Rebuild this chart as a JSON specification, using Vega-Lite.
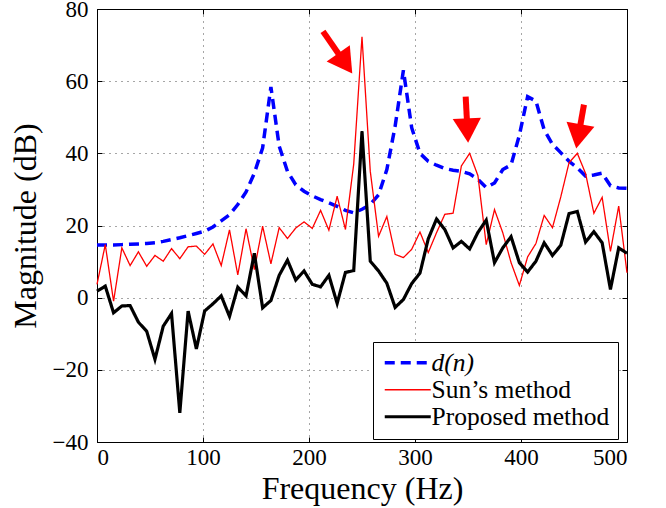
{
  "$schema": "https://vega.github.io/schema/vega-lite/v6.json",
  "width": 530,
  "height": 433,
  "autosize": {"type": "none"},
  "padding": {"left": 97, "top": 9, "right": 39, "bottom": 66},
  "background": "white",
  "config": {
    "view": {"stroke": "black", "strokeWidth": 1},
    "font": "Liberation Serif",
    "style": {
      "guide-label": {"font": "Liberation Serif", "fill": "black"},
      "guide-title": {"font": "Liberation Serif", "fill": "black"}
    },
    "axis": {
      "labelFont": "Liberation Serif", "labelFontSize": 23, "labelColor": "black",
      "titleFont": "Liberation Serif", "titleFontSize": 32, "titleFontWeight": "normal", "titleColor": "black",
      "tickColor": "black", "tickSize": -5, "tickWidth": 1, "domain": false,
      "gridColor": "black", "gridDash": [1, 5], "gridOpacity": 0.7, "gridWidth": 1
    },
    "legend": {"labelFont": "Liberation Serif", "labelFontSize": 25.5, "labelColor": "black", "labelLimit": 400}
  },
  "datasets": {
    "spectra": [
      {"f":0,"v":14.6,"s":"d(n)"},{"f":7.8125,"v":14.6,"s":"d(n)"},{"f":15.625,"v":14.6,"s":"d(n)"},{"f":23.4375,"v":14.7,"s":"d(n)"},{"f":31.25,"v":14.8,"s":"d(n)"},{"f":39.0625,"v":14.9,"s":"d(n)"},{"f":46.875,"v":15.0,"s":"d(n)"},{"f":54.6875,"v":15.2,"s":"d(n)"},{"f":62.5,"v":15.6,"s":"d(n)"},{"f":70.3125,"v":16.1,"s":"d(n)"},
      {"f":78.125,"v":16.6,"s":"d(n)"},{"f":85.9375,"v":17.2,"s":"d(n)"},{"f":93.75,"v":17.8,"s":"d(n)"},{"f":101.5625,"v":18.4,"s":"d(n)"},{"f":109.375,"v":19.6,"s":"d(n)"},{"f":117.1875,"v":21.3,"s":"d(n)"},{"f":125,"v":23.0,"s":"d(n)"},{"f":132.8125,"v":25.8,"s":"d(n)"},{"f":140.625,"v":29.3,"s":"d(n)"},{"f":148.4375,"v":34.5,"s":"d(n)"},
      {"f":156.25,"v":41.5,"s":"d(n)"},{"f":164.0625,"v":58.4,"s":"d(n)"},{"f":171.875,"v":42.0,"s":"d(n)"},{"f":179.6875,"v":35.0,"s":"d(n)"},{"f":187.5,"v":31.3,"s":"d(n)"},{"f":195.3125,"v":29.5,"s":"d(n)"},{"f":203.125,"v":28.2,"s":"d(n)"},{"f":210.9375,"v":27.2,"s":"d(n)"},{"f":218.75,"v":26.3,"s":"d(n)"},{"f":226.5625,"v":25.3,"s":"d(n)"},
      {"f":234.375,"v":24.2,"s":"d(n)"},{"f":242.1875,"v":23.5,"s":"d(n)"},{"f":250,"v":24.5,"s":"d(n)"},{"f":257.8125,"v":25.8,"s":"d(n)"},{"f":265.625,"v":28.5,"s":"d(n)"},{"f":273.4375,"v":35.5,"s":"d(n)"},{"f":281.25,"v":47.5,"s":"d(n)"},{"f":289.0625,"v":63.0,"s":"d(n)"},{"f":296.875,"v":47.1,"s":"d(n)"},{"f":304.6875,"v":40.0,"s":"d(n)"},
      {"f":312.5,"v":37.8,"s":"d(n)"},{"f":320.3125,"v":36.7,"s":"d(n)"},{"f":328.125,"v":35.8,"s":"d(n)"},{"f":335.9375,"v":35.3,"s":"d(n)"},{"f":343.75,"v":35.0,"s":"d(n)"},{"f":351.5625,"v":34.3,"s":"d(n)"},{"f":359.375,"v":32.8,"s":"d(n)"},{"f":367.1875,"v":30.5,"s":"d(n)"},{"f":375,"v":31.8,"s":"d(n)"},{"f":382.8125,"v":35.5,"s":"d(n)"},
      {"f":390.625,"v":36.8,"s":"d(n)"},{"f":398.4375,"v":45.0,"s":"d(n)"},{"f":406.25,"v":55.7,"s":"d(n)"},{"f":414.0625,"v":54.5,"s":"d(n)"},{"f":421.875,"v":46.5,"s":"d(n)"},{"f":429.6875,"v":42.5,"s":"d(n)"},{"f":437.5,"v":40.2,"s":"d(n)"},{"f":445.3125,"v":37.8,"s":"d(n)"},{"f":453.125,"v":36.0,"s":"d(n)"},{"f":460.9375,"v":33.7,"s":"d(n)"},
      {"f":468.75,"v":34.0,"s":"d(n)"},{"f":476.5625,"v":34.5,"s":"d(n)"},{"f":484.375,"v":31.0,"s":"d(n)"},{"f":492.1875,"v":30.4,"s":"d(n)"},{"f":500,"v":30.3,"s":"d(n)"},

      {"f":0,"v":3.7,"s":"Sun’s method"},{"f":7.8125,"v":14.7,"s":"Sun’s method"},{"f":15.625,"v":-1.0,"s":"Sun’s method"},{"f":23.4375,"v":13.8,"s":"Sun’s method"},{"f":31.25,"v":8.9,"s":"Sun’s method"},{"f":39.0625,"v":12.7,"s":"Sun’s method"},{"f":46.875,"v":8.7,"s":"Sun’s method"},{"f":54.6875,"v":11.7,"s":"Sun’s method"},{"f":62.5,"v":10.1,"s":"Sun’s method"},{"f":70.3125,"v":13.6,"s":"Sun’s method"},
      {"f":78.125,"v":10.8,"s":"Sun’s method"},{"f":85.9375,"v":14.1,"s":"Sun’s method"},{"f":93.75,"v":14.3,"s":"Sun’s method"},{"f":101.5625,"v":12.0,"s":"Sun’s method"},{"f":109.375,"v":14.9,"s":"Sun’s method"},{"f":117.1875,"v":8.9,"s":"Sun’s method"},{"f":125,"v":18.8,"s":"Sun’s method"},{"f":132.8125,"v":6.3,"s":"Sun’s method"},{"f":140.625,"v":19.1,"s":"Sun’s method"},{"f":148.4375,"v":7.8,"s":"Sun’s method"},
      {"f":156.25,"v":19.8,"s":"Sun’s method"},{"f":164.0625,"v":9.4,"s":"Sun’s method"},{"f":171.875,"v":19.4,"s":"Sun’s method"},{"f":179.6875,"v":16.4,"s":"Sun’s method"},{"f":187.5,"v":19.3,"s":"Sun’s method"},{"f":195.3125,"v":21.0,"s":"Sun’s method"},{"f":203.125,"v":19.2,"s":"Sun’s method"},{"f":210.9375,"v":24.2,"s":"Sun’s method"},{"f":218.75,"v":18.7,"s":"Sun’s method"},{"f":226.5625,"v":28.1,"s":"Sun’s method"},
      {"f":234.375,"v":18.9,"s":"Sun’s method"},{"f":242.1875,"v":37.0,"s":"Sun’s method"},{"f":250,"v":72.3,"s":"Sun’s method"},{"f":257.8125,"v":35.0,"s":"Sun’s method"},{"f":265.625,"v":17.0,"s":"Sun’s method"},{"f":273.4375,"v":22.5,"s":"Sun’s method"},{"f":281.25,"v":12.0,"s":"Sun’s method"},{"f":289.0625,"v":11.1,"s":"Sun’s method"},{"f":296.875,"v":13.4,"s":"Sun’s method"},{"f":304.6875,"v":18.2,"s":"Sun’s method"},
      {"f":312.5,"v":12.5,"s":"Sun’s method"},{"f":320.3125,"v":18.0,"s":"Sun’s method"},{"f":328.125,"v":23.1,"s":"Sun’s method"},{"f":335.9375,"v":23.4,"s":"Sun’s method"},{"f":343.75,"v":36.5,"s":"Sun’s method"},{"f":351.5625,"v":40.0,"s":"Sun’s method"},{"f":359.375,"v":33.8,"s":"Sun’s method"},{"f":367.1875,"v":14.7,"s":"Sun’s method"},{"f":375,"v":24.4,"s":"Sun’s method"},{"f":382.8125,"v":18.0,"s":"Sun’s method"},
      {"f":390.625,"v":9.7,"s":"Sun’s method"},{"f":398.4375,"v":3.4,"s":"Sun’s method"},{"f":406.25,"v":11.3,"s":"Sun’s method"},{"f":414.0625,"v":15.0,"s":"Sun’s method"},{"f":421.875,"v":22.8,"s":"Sun’s method"},{"f":429.6875,"v":19.4,"s":"Sun’s method"},{"f":437.5,"v":27.9,"s":"Sun’s method"},{"f":445.3125,"v":37.4,"s":"Sun’s method"},{"f":453.125,"v":40.0,"s":"Sun’s method"},{"f":460.9375,"v":34.4,"s":"Sun’s method"},
      {"f":468.75,"v":23.4,"s":"Sun’s method"},{"f":476.5625,"v":27.8,"s":"Sun’s method"},{"f":484.375,"v":12.8,"s":"Sun’s method"},{"f":492.1875,"v":25.4,"s":"Sun’s method"},{"f":500,"v":6.9,"s":"Sun’s method"},

      {"f":0,"v":1.8,"s":"Proposed method"},{"f":7.8125,"v":3.2,"s":"Proposed method"},{"f":15.625,"v":-4.2,"s":"Proposed method"},{"f":23.4375,"v":-2.3,"s":"Proposed method"},{"f":31.25,"v":-2.2,"s":"Proposed method"},{"f":39.0625,"v":-6.8,"s":"Proposed method"},{"f":46.875,"v":-9.3,"s":"Proposed method"},{"f":54.6875,"v":-17.1,"s":"Proposed method"},{"f":62.5,"v":-7.9,"s":"Proposed method"},{"f":70.3125,"v":-4.4,"s":"Proposed method"},
      {"f":78.125,"v":-31.9,"s":"Proposed method"},{"f":85.9375,"v":-3.7,"s":"Proposed method"},{"f":93.75,"v":-14.2,"s":"Proposed method"},{"f":101.5625,"v":-3.7,"s":"Proposed method"},{"f":109.375,"v":-1.7,"s":"Proposed method"},{"f":117.1875,"v":0.5,"s":"Proposed method"},{"f":125,"v":-5.2,"s":"Proposed method"},{"f":132.8125,"v":2.9,"s":"Proposed method"},{"f":140.625,"v":0.5,"s":"Proposed method"},{"f":148.4375,"v":12.3,"s":"Proposed method"},
      {"f":156.25,"v":-2.8,"s":"Proposed method"},{"f":164.0625,"v":-0.8,"s":"Proposed method"},{"f":171.875,"v":6.2,"s":"Proposed method"},{"f":179.6875,"v":10.4,"s":"Proposed method"},{"f":187.5,"v":4.9,"s":"Proposed method"},{"f":195.3125,"v":7.4,"s":"Proposed method"},{"f":203.125,"v":3.7,"s":"Proposed method"},{"f":210.9375,"v":3.0,"s":"Proposed method"},{"f":218.75,"v":6.2,"s":"Proposed method"},{"f":226.5625,"v":-1.6,"s":"Proposed method"},
      {"f":234.375,"v":7.0,"s":"Proposed method"},{"f":242.1875,"v":7.5,"s":"Proposed method"},{"f":250,"v":46.1,"s":"Proposed method"},{"f":257.8125,"v":10.1,"s":"Proposed method"},{"f":265.625,"v":7.4,"s":"Proposed method"},{"f":273.4375,"v":4.0,"s":"Proposed method"},{"f":281.25,"v":-2.7,"s":"Proposed method"},{"f":289.0625,"v":-0.5,"s":"Proposed method"},{"f":296.875,"v":3.9,"s":"Proposed method"},{"f":304.6875,"v":6.8,"s":"Proposed method"},
      {"f":312.5,"v":16.3,"s":"Proposed method"},{"f":320.3125,"v":21.8,"s":"Proposed method"},{"f":328.125,"v":18.9,"s":"Proposed method"},{"f":335.9375,"v":13.8,"s":"Proposed method"},{"f":343.75,"v":15.6,"s":"Proposed method"},{"f":351.5625,"v":13.5,"s":"Proposed method"},{"f":359.375,"v":18.1,"s":"Proposed method"},{"f":367.1875,"v":21.5,"s":"Proposed method"},{"f":375,"v":9.7,"s":"Proposed method"},{"f":382.8125,"v":13.8,"s":"Proposed method"},
      {"f":390.625,"v":16.9,"s":"Proposed method"},{"f":398.4375,"v":9.7,"s":"Proposed method"},{"f":406.25,"v":7.1,"s":"Proposed method"},{"f":414.0625,"v":10.1,"s":"Proposed method"},{"f":421.875,"v":15.2,"s":"Proposed method"},{"f":429.6875,"v":11.7,"s":"Proposed method"},{"f":437.5,"v":14.5,"s":"Proposed method"},{"f":445.3125,"v":23.3,"s":"Proposed method"},{"f":453.125,"v":23.9,"s":"Proposed method"},{"f":460.9375,"v":15.4,"s":"Proposed method"},
      {"f":468.75,"v":18.3,"s":"Proposed method"},{"f":476.5625,"v":15.2,"s":"Proposed method"},{"f":484.375,"v":2.3,"s":"Proposed method"},{"f":492.1875,"v":13.8,"s":"Proposed method"},{"f":500,"v":12.3,"s":"Proposed method"}
    ],
    "arrows": [
      {"id":1,"xa":213.2,"ya":73.8,"xb":234.2,"yb":64.9},
      {"id":2,"xa":347.8,"ya":55.7,"xb":349.5,"yb":46.3},
      {"id":3,"xa":459.4,"ya":53.5,"xb":454.1,"yb":44.7}
    ]
  },
  "layer": [
    {
      "data": {"name": "spectra"},
      "mark": {"type": "line", "strokeCap": "butt"},
      "encoding": {
        "x": {"field": "f", "type": "quantitative", "scale": {"domain": [0, 500], "nice": false},
              "axis": {"title": "Frequency (Hz)", "values": [0, 100, 200, 300, 400, 500], "grid": true, "labelPadding": 9, "titlePadding": 4, "orient": "bottom"}},
        "y": {"field": "v", "type": "quantitative", "scale": {"domain": [-40, 80], "nice": false},
              "axis": {"title": "Magnitude (dB)", "values": [-40, -20, 0, 20, 40, 60, 80], "grid": true, "labelPadding": 14, "titlePadding": 10, "orient": "left"}},
        "color": {"field": "s", "type": "nominal",
                  "scale": {"domain": ["d(n)", "Sun’s method", "Proposed method"], "range": ["#0000ff", "#ff0000", "#000000"]},
                  "legend": {"title": null, "orient": "none", "legendX": 276, "legendY": 333,
                             "strokeColor": "black", "fillColor": "white", "padding": 8,
                             "labelFont": "Liberation Serif", "labelFontSize": 25.5, "labelColor": "black", "labelLimit": 400,
                             "symbolSize": 400, "symbolType": "M-2.3,0H2.3", "symbolOffset": 14, "labelOffset": 11, "rowPadding": -1,
                             "encode": {"labels": {"update": {"fontStyle": {"signal": "datum.label == 'd(n)' ? 'italic' : 'normal'"}}}}}},
        "strokeDash": {"field": "s", "type": "nominal",
                       "scale": {"type": "ordinal", "domain": ["d(n)", "Sun’s method", "Proposed method"], "range": [[10, 6], [1, 0], [1, 0]]},
                       "legend": {"title": null, "orient": "none", "legendX": 276, "legendY": 333}},
        "strokeWidth": {"field": "s", "type": "nominal",
                        "scale": {"type": "ordinal", "domain": ["d(n)", "Sun’s method", "Proposed method"], "range": [3.5, 1.3, 3.2]},
                        "legend": {"title": null, "orient": "none", "legendX": 276, "legendY": 333}}
      }
    },
    {
      "data": {"name": "arrows"},
      "mark": {"type": "rule", "color": "#ff0000", "strokeWidth": 6, "strokeCap": "butt"},
      "encoding": {
        "x": {"field": "xa", "type": "quantitative", "scale": {"domain": [0, 500], "nice": false},
              "axis": {"orient": "top", "title": null, "labels": false, "grid": false, "values": [0, 100, 200, 300, 400, 500]}},
        "y": {"field": "ya", "type": "quantitative", "scale": {"domain": [-40, 80], "nice": false},
              "axis": {"orient": "right", "title": null, "labels": false, "grid": false, "values": [-40, -20, 0, 20, 40, 60, 80]}},
        "x2": {"field": "xb"},
        "y2": {"field": "yb"}
      }
    },
    {
      "data": {"name": "arrows"},
      "transform": [{"filter": "datum.id == 1"}],
      "mark": {"type": "point", "shape": "triangle-down", "filled": true, "color": "#ff0000", "opacity": 1, "size": 800, "angle": -35, "strokeWidth": 0},
      "encoding": {
        "x": {"field": "xb", "type": "quantitative", "axis": null},
        "y": {"field": "yb", "type": "quantitative", "axis": null}
      }
    },
    {
      "data": {"name": "arrows"},
      "transform": [{"filter": "datum.id == 2"}],
      "mark": {"type": "point", "shape": "triangle-down", "filled": true, "color": "#ff0000", "opacity": 1, "size": 800, "angle": -3, "strokeWidth": 0},
      "encoding": {
        "x": {"field": "xb", "type": "quantitative", "axis": null},
        "y": {"field": "yb", "type": "quantitative", "axis": null}
      }
    },
    {
      "data": {"name": "arrows"},
      "transform": [{"filter": "datum.id == 3"}],
      "mark": {"type": "point", "shape": "triangle-down", "filled": true, "color": "#ff0000", "opacity": 1, "size": 800, "angle": 10, "strokeWidth": 0},
      "encoding": {
        "x": {"field": "xb", "type": "quantitative", "axis": null},
        "y": {"field": "yb", "type": "quantitative", "axis": null}
      }
    }
  ],
  "resolve": {"axis": {"x": "independent", "y": "independent"}}
}
